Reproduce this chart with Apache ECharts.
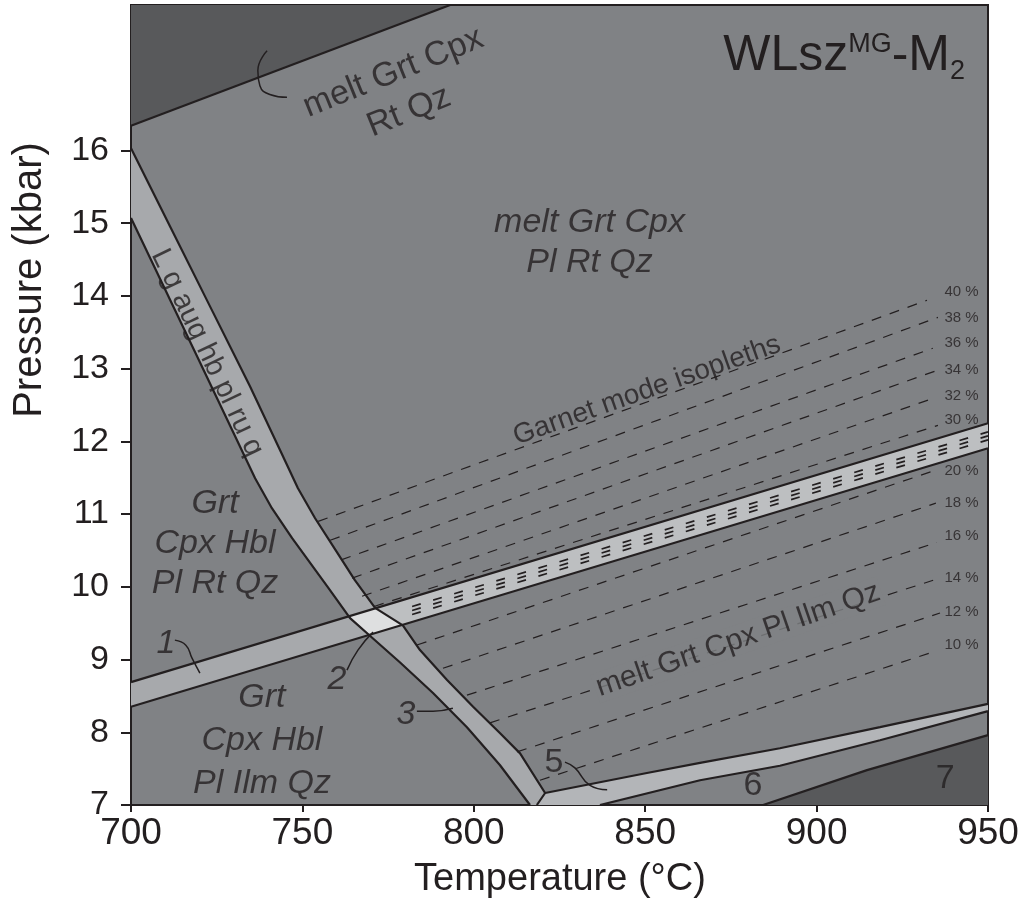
<!DOCTYPE html>
<html><head><meta charset="utf-8">
<script src="https://cdn.jsdelivr.net/npm/echarts@6/dist/echarts.min.js"></script>
<style>html,body{margin:0;padding:0;background:#fff}#c{width:1022px;height:911px}</style>
</head><body><div id="c"></div>
<script>
// ---- axis ticks ----
const xTicks = [700, 750, 800, 850, 900, 950];
const yTicks = [7, 8, 9, 10, 11, 12, 13, 14, 15, 16];

// ---- phase boundaries [T (°C), P (kbar)] ----
const darkTopLine = [[700, 16.34], [793.1, 18]];
const band3Right = [[700,16.03],[711.4,14.955],[723.05,13.856],[734.7,12.757],[743.5,11.878],[748.7,11.356],[753.7,10.943],[759.5,10.517],[765.3,10.092],[771.2,9.71],[779.3,9.47],[784.3,9.13],[792.2,8.72],[799.8,8.35],[807.6,7.99],[813.5,7.71],[820.8,7.165],[818.4,7.0]];
const band3Left = [[700,15.07],[720.1,13.087],[736.2,11.493],[741.1,11.081],[747.0,10.669],[757.2,10.009],[763.9,9.569],[770.6,9.29],[778.5,8.96],[788.1,8.54],[798.0,8.07],[807.6,7.55],[816.4,7.0]];
const band1Upper = [[700, 8.69], [950, 12.25]];
const band1Lower = [[700, 8.35], [950, 11.905]];
const overlapQuad = [[763.5,9.60],[771.2,9.71],[779.3,9.47],[769.5,9.34]];
const stripedStart = [[771.2,9.71],[779.3,9.47]];
const band5Upper = [[820.8,7.165],[850.5,7.44],[866.0,7.58],[889.3,7.78],[918.5,8.07],[950,8.39]];
const band5Lower = [[836.8,7.0],[866.0,7.34],[889.3,7.54],[918.5,7.89],[950,8.29]];
const region7Line = [[884.4,7.0],[914.7,7.48],[950,7.96]];

// ---- garnet mode isopleths (%) ----
const isoPct   = [40, 38, 36, 34, 32, 30, 20, 18, 16, 14, 12, 10];
const isoStart = [[754.6,10.90],[758.1,10.64],[761.3,10.37],[764.5,10.12],[767.4,9.87],[770.9,9.73],
                  [783.4,9.20],[791.0,8.88],[798.0,8.51],[804.7,8.13],[812.6,7.73],[819.3,7.34]];
const isoEnd   = [[932.2,13.94],[935.4,13.705],[933.9,13.28],[935.4,12.98],[933.9,12.59],[935.4,12.22],
                  [934.5,11.60],[934.8,11.15],[935.1,10.61],[934.0,10.09],[936.0,9.64],[933.7,9.10]];
const isoLabelP = [14.06,13.705,13.35,12.98,12.63,12.29,11.60,11.16,10.70,10.12,9.65,9.20];
const isoLabelT = 942.3;
// compressed isopleths (22-28 %) inside the striped band
const stripeStart = [[782,9.73],[782,9.675],[782,9.62]];
const stripeEnd   = [[950,12.13],[950,12.075],[950,12.02]];

// ---- leader curves ----
const leaderTop = [[739.7,17.37],[737.0,17.10],[737.6,16.89],[740.5,16.77],[745.5,16.73]];
const leader1 = [[712.8,9.267],[716.0,9.198],[717.8,9.02],[720.1,8.814]];
const leader2 = [[763.0,8.855],[766.2,9.13],[770.6,9.377]];
const leader3 = [[783.4,8.29],[788.1,8.29],[793.9,8.33]];
const leader5 = [[826.6,7.59],[829.5,7.51],[833.9,7.27],[838.9,7.21]];

// ---- field labels ----
const fieldText = ['melt Grt Cpx\nRt Qz','melt Grt Cpx\nPl Rt Qz','Grt\nCpx Hbl\nPl Rt Qz','Grt\nCpx Hbl\nPl Ilm Qz','Garnet mode isopleths','melt Grt Cpx Pl Ilm Qz','L g aug hb pl ru q','1','2','3','5','6','7'];
const fieldPos  = [[778.8,16.80],[833.75,14.735],[724.5,10.60],[738.2,7.88],[850.5,12.70],[877.1,9.27],[722.2,13.22],[710.2,9.226],[760.1,8.72],[780.2,8.24],[823.4,7.58],[881.4,7.26],[937.5,7.36]];

// ---------------------------------------------------------------
const INK = '#231f20';
const FONT = '"Liberation Sans", Arial, sans-serif';
const C_MAIN = '#808285', C_DARK = '#58595b', C_BAND = '#a7a9ac', C_STRIPE = '#bdbfc1', C_QUAD = '#dedfe0', C_BAND5 = '#b3b5b8';

function poly(pts, color, z) {
  return { type: 'custom', coordinateSystem: 'cartesian2d', silent: true, z: z, animation: false,
    data: pts,
    renderItem: function (params, api) {
      if (params.dataIndex !== 0) return null;
      return { type: 'polygon', shape: { points: pts.map(p => api.coord(p)) }, style: { fill: color } };
    } };
}
function line(pts, w, dash, z) {
  return { type: 'line', data: pts, symbol: 'none', showSymbol: false, silent: true, animation: false, z: z || 4,
    lineStyle: { color: INK, width: w, type: dash || 'solid', cap: 'butt' } };
}
function label(text, pos, o) {
  return { type: 'scatter', data: [pos], symbolSize: 0, silent: true, animation: false, z: 10,
    label: Object.assign({ show: true, position: 'inside', formatter: text, color: INK, fontFamily: FONT,
      fontSize: 34, align: 'center', verticalAlign: 'middle' }, o) };
}

const series = [];
// fields
series.push(poly(darkTopLine.concat([[700,18]]), C_DARK, 1));
series.push(poly(band1Upper.concat(band1Lower.slice().reverse()), C_BAND, 1));
series.push(poly(band3Left.concat(band3Right.slice().reverse()), C_BAND, 1));
series.push(poly([stripedStart[0], band1Upper[1], band1Lower[1], stripedStart[1]], C_STRIPE, 1));
series.push(poly(overlapQuad, C_QUAD, 1));
series.push(poly(band5Upper.concat(band5Lower.slice().reverse(), [[818.4,7.0]]), C_BAND5, 1));
series.push(poly(region7Line.concat([[950,7]]), C_DARK, 1));
// boundaries
[darkTopLine, band3Right, band3Left, band1Upper, band1Lower, band5Upper, band5Lower, region7Line].forEach(l => series.push(line(l, 2.2)));
// isopleths
isoPct.forEach((p, i) => series.push(line([isoStart[i], isoEnd[i]], 1.2, [10, 9], 3)));
stripeStart.forEach((p, i) => series.push(line([p, stripeEnd[i]], 1.7, [9, 13], 3)));
// leaders
[leaderTop, leader1, leader2, leader3, leader5].forEach(l => { const s = line(l, 1.5); s.smooth = 0.5; series.push(s); });
// labels
const fieldOpts = [
  { rotate: 22, lineHeight: 42 },
  { fontStyle: 'italic', lineHeight: 40 },
  { fontStyle: 'italic', lineHeight: 40 },
  { fontStyle: 'italic', lineHeight: 43 },
  { rotate: 19.5, fontSize: 28 },
  { rotate: 19, fontSize: 30, backgroundColor: C_MAIN, padding: [0, 2] },
  { rotate: -64.5, fontSize: 29 },
  { fontStyle: 'italic' }, { fontStyle: 'italic' }, { fontStyle: 'italic' }, {}, {}, {}
];
fieldText.forEach((t, i) => series.push(label(t, fieldPos[i], fieldOpts[i])));
isoPct.forEach((p, i) => series.push(label(p + ' %', [isoLabelT, isoLabelP[i]], { fontSize: 15 })));

const chart = echarts.init(document.getElementById('c'), null, { renderer: 'canvas' });
chart.setOption({
  animation: false,
  backgroundColor: '#ffffff',
  title: {
    text: '{a|WLsz}{s|MG}{a|-M}{b|2}', right: 52, top: 20,
    textStyle: { fontWeight: 'normal', rich: {
      a: { fontSize: 50, fontWeight: 'normal', fontFamily: FONT, color: INK, lineHeight: 62, verticalAlign: 'middle' },
      s: { fontSize: 27, fontWeight: 'normal', fontFamily: FONT, color: INK, lineHeight: 62, verticalAlign: 'top', padding: [6, 0, 0, 0] },
      b: { fontSize: 27, fontWeight: 'normal', fontFamily: FONT, color: INK, lineHeight: 62, verticalAlign: 'bottom', padding: [0, 0, 2, 0] }
    } }
  },
  grid: { left: 131, right: 34, top: 5, bottom: 106, show: true, backgroundColor: C_MAIN, borderColor: INK, borderWidth: 2, containLabel: false },
  xAxis: {
    type: 'value', min: 700, max: 950, interval: 50,
    axisLine: { show: true, lineStyle: { color: INK, width: 2 } },
    axisTick: { show: true, inside: false, length: 7, lineStyle: { color: INK, width: 2 } },
    axisLabel: { fontSize: 37, fontFamily: FONT, color: INK, margin: 10, customValues: xTicks },
    splitLine: { show: false }
  },
  yAxis: {
    type: 'value', min: 7, max: 18, interval: 1,
    axisLine: { show: true, lineStyle: { color: INK, width: 2 } },
    axisTick: { show: true, inside: false, length: 10, lineStyle: { color: INK, width: 2 }, customValues: yTicks },
    axisLabel: { fontSize: 34, fontFamily: FONT, color: INK, margin: 22, customValues: yTicks },
    splitLine: { show: false }
  },
  graphic: [
    { type: 'text', x: 560, y: 880, z: 100, style: { text: 'Temperature (°C)', font: '38px ' + FONT, fill: INK, align: 'center', verticalAlign: 'middle' } },
    { type: 'text', x: 30, y: 280, rotation: Math.PI / 2, z: 100, style: { text: 'Pressure (kbar)', font: '40px ' + FONT, fill: INK, align: 'center', verticalAlign: 'middle' } }
  ],
  series: series
});
</script></body></html>
